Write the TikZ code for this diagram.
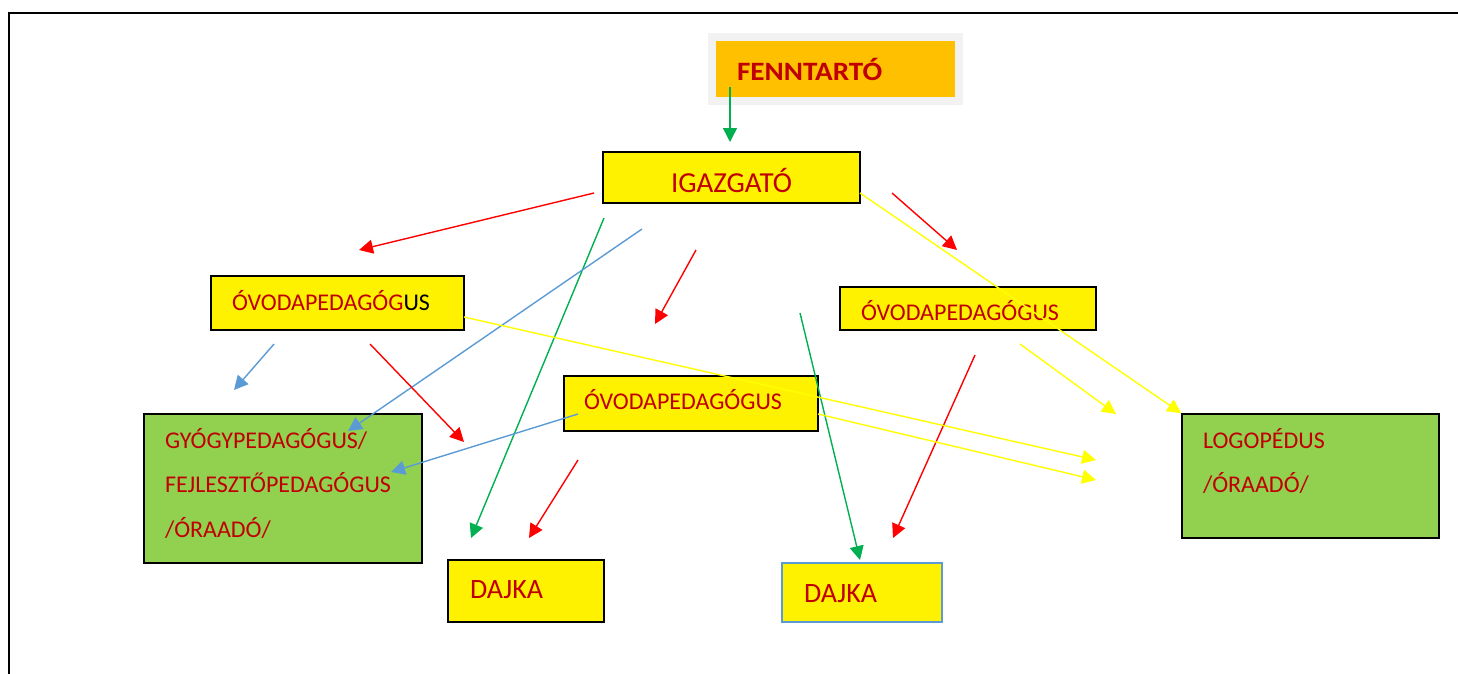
\documentclass[tikz,border=0pt]{standalone}
\usepackage{fontspec}
\setmainfont{Carlito}
\newfontfamily\fennfont{Carlito}[FakeStretch=1.1]
\usepackage{xcolor}
\usetikzlibrary{arrows.meta}

\definecolor{betu}{HTML}{C00000}
\definecolor{narancs}{HTML}{FFC000}
\definecolor{szurke}{HTML}{F2F2F2}
\definecolor{fuzold}{HTML}{92D050}
\definecolor{piros}{HTML}{FF0000}
\definecolor{zold}{HTML}{00B050}
\definecolor{kek}{HTML}{5B9BD5}
\definecolor{sarga}{HTML}{FFFF00}

\begin{document}
\begin{tikzpicture}[x=1pt,y=-1pt,
    ybox/.style={rectangle,draw,line width=1.6pt,fill=yellow,text=betu,inner ysep=0pt,align=left,font=\fontsize{24}{44.5}\selectfont},
    gbox/.style={ybox,fill=fuzold},
    arr/.style={line width=1.4pt,-{Triangle[length=14pt,width=14pt]}}]
    \useasboundingbox (0,0) rectangle (1458,673);
    \clip (0,0) rectangle (1458,673);
    % Frame
    \draw[line width=1.6pt] (9,13) rectangle (1480,700);

    % Boxes
    \node[ybox,fill=narancs,draw=szurke,line width=8pt,font=\fontsize{26.5}{32}\fennfont\bfseries,text width=196pt,inner xsep=25.5pt,text height=43pt,text depth=21pt] (fenn) at (835,69) {FENNTARTÓ};
    \node[ybox,align=center,font=\fontsize{29}{35}\selectfont,text width=237pt,inner xsep=10pt,text height=40pt,text depth=11pt] (igaz) at (731.5,177.5) {IGAZGATÓ};
    \node[ybox,text width=211pt,inner xsep=21pt,text height=34pt,text depth=20pt] (ovl) at (337.5,303) {ÓVODAPEDAGÓG{\color{black}US}};
    \node[ybox,text width=214pt,inner xsep=21pt,text height=33pt,text depth=10pt] (ovr) at (968,308.5) {ÓVODAPEDAGÓGUS};
    \node[ybox,text width=214pt,inner xsep=20pt,text height=33pt,text depth=22pt] (ovm) at (691,403.5) {ÓVODAPEDAGÓGUS};
    \node[gbox,text width=236pt,inner xsep=21pt,text height=34pt,text depth=115pt] (gyogy) at (283,488.5) {GYÓGYPEDAGÓGUS/\\FEJLESZTŐPEDAGÓGUS\\/ÓRAADÓ/};
    \node[gbox,text width=215pt,inner xsep=21pt,text height=34pt,text depth=90pt] (logo) at (1310.5,476) {LOGOPÉDUS\\/ÓRAADÓ/};
    \node[ybox,font=\fontsize{28}{34}\selectfont,text width=112pt,inner xsep=22pt,text height=38pt,text depth=24pt] (dajka1) at (526,591) {DAJKA};
    \node[ybox,draw=kek,line width=1.2pt,font=\fontsize{28}{34}\selectfont,text width=116pt,inner xsep=22pt,text height=39pt,text depth=20pt] (dajka2) at (862,592.5) {DAJKA};

    % Arrow ends
    \coordinate (f1) at (730,87);   \coordinate (f2) at (730,142);
    \coordinate (i1) at (594,193);  \coordinate (i2) at (359,250);
    \coordinate (i3) at (892,193);  \coordinate (i4) at (957,250);
    \coordinate (i5) at (860,193);
    \coordinate (i6) at (604,218);  \coordinate (i7) at (471,538);
    \coordinate (i8) at (642,229);  \coordinate (i9) at (348,431);
    \coordinate (m1) at (696,250);  \coordinate (m2) at (655,324);
    \coordinate (m3) at (800,313);  \coordinate (m4) at (860,560);
    \coordinate (r1) at (975,355);  \coordinate (r2) at (893,538);
    \coordinate (r3) at (1020,344); \coordinate (r4) at (1116,414);
    \coordinate (l1) at (464,317);  \coordinate (l2) at (1096,460);
    \coordinate (l3) at (274,344);  \coordinate (l4) at (234,390);
    \coordinate (l5) at (370,344);  \coordinate (l6) at (464,442);
    \coordinate (k1) at (818,414);  \coordinate (k2) at (1096,480);
    \coordinate (k3) at (578,414);  \coordinate (k4) at (391,472);
    \coordinate (k5) at (578,460);  \coordinate (k6) at (529,538);

    % Arrows
    \draw[arr,zold] (f1) -- (f2);
    \draw[arr,piros] (i1) -- (i2);
    \draw[arr,piros] (i3) -- (i4);
    \draw[arr,sarga] (i5) -- (logo.north west);
    \draw[arr,zold] (i6) -- (i7);
    \draw[arr,kek] (i8) -- (i9);
    \draw[arr,piros] (m1) -- (m2);
    \draw[arr,zold] (m3) -- (m4);
    \draw[arr,piros] (r1) -- (r2);
    \draw[arr,sarga] (r3) -- (r4);
    \draw[arr,sarga] (l1) -- (l2);
    \draw[arr,kek] (l3) -- (l4);
    \draw[arr,piros] (l5) -- (l6);
    \draw[arr,sarga] (k1) -- (k2);
    \draw[arr,kek] (k3) -- (k4);
    \draw[arr,piros] (k5) -- (k6);
\end{tikzpicture}
\end{document}
